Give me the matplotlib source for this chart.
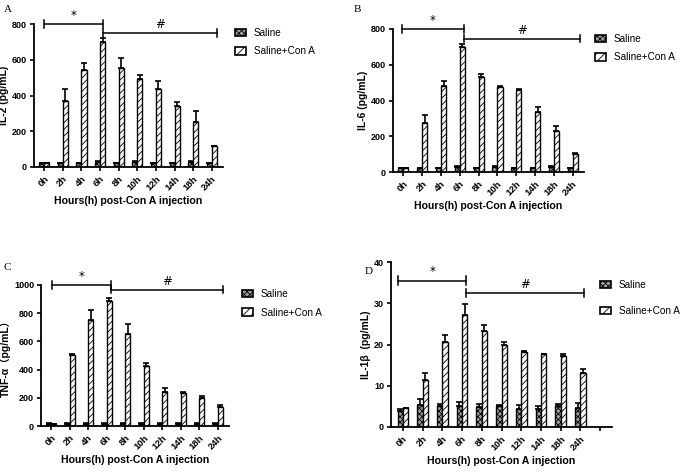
import numpy as np
import matplotlib
matplotlib.use("Agg")
import matplotlib.pyplot as plt
from matplotlib.patches import Patch

plt.rcParams['font.family'] = ['Liberation Sans', 'Noto Sans CJK SC', 'DejaVu Sans']
plt.rcParams['hatch.linewidth'] = 0.6
plt.rcParams['hatch.color'] = 'black'

hours = ['0h', '2h', '4h', '6h', '8h', '10h', '12h', '14h', '18h', '24h']

# IL-2
il2_saline = [22, 22, 22, 28, 22, 28, 22, 22, 28, 22]
il2_saline_err = [3, 3, 3, 4, 3, 4, 3, 3, 4, 3]
il2_cona = [22, 372, 541, 697, 556, 494, 434, 340, 252, 115]
il2_cona_err = [2, 65, 41, 22, 51, 22, 45, 22, 60, 5]

# IL-6
il6_saline = [22, 22, 22, 28, 22, 28, 22, 22, 28, 22]
il6_saline_err = [3, 3, 3, 4, 3, 4, 3, 3, 4, 3]
il6_cona = [22, 275, 480, 697, 529, 477, 458, 336, 232, 103]
il6_cona_err = [2, 46, 28, 21, 19, 5, 9, 25, 24, 2]

# TNF-alpha
tnf_saline = [15, 15, 15, 15, 15, 15, 15, 15, 15, 15]
tnf_saline_err = [3, 3, 3, 3, 3, 3, 3, 3, 3, 3]
tnf_cona = [15, 507, 750, 884, 649, 427, 243, 231, 196, 137]
tnf_cona_err = [2, 7, 71, 24, 73, 23, 24, 7, 16, 12]

# IL-1beta
il1b_saline = [4.0, 5.4, 5.0, 5.2, 4.9, 5.0, 4.4, 4.4, 5.1, 4.5]
il1b_saline_err = [0.4, 1.3, 0.6, 0.9, 0.6, 0.3, 1.0, 0.7, 0.4, 1.2]
il1b_cona = [4.5, 11.4, 20.7, 27.2, 23.2, 20.0, 18.2, 17.7, 17.3, 13.2]
il1b_cona_err = [0.2, 1.6, 1.7, 2.7, 1.6, 0.7, 0.2, 0.1, 0.3, 0.8]

W, H = 686, 474
fig = plt.figure(figsize=(W / 100, H / 100), dpi=100)


def px_axes(l, r, t, b):
    return fig.add_axes([l / W, 1 - b / H, (r - l) / W, (b - t) / H])


def bracket(ax, x0, x1, y, label, cap):
    ax.plot([x0, x1], [y, y], color='black', lw=1.1, clip_on=False)
    for xx in (x0, x1):
        ax.plot([xx, xx], [y - cap, y + cap], color='black', lw=1.1, clip_on=False)
    ax.annotate(label, ((x0 + x1) / 2, y), xytext=(0, 1.5), textcoords='offset points',
                ha='center', va='bottom', fontsize=8.5, family='DejaVu Sans')


def panel(box, saline, saline_err, cona, cona_err, ymax, step, ylabel, letter,
          letter_xy, brackets, legend_xy, legend_gap, extra_slot=False):
    ax = px_axes(*box)
    x = np.arange(len(hours))
    w = 0.27
    ax.bar(x - w / 2, saline, w, color='#a0a0a0', edgecolor='black', lw=1.0,
           hatch='xxxxxx', zorder=2)
    ax.bar(x + w / 2, cona, w, color='white', edgecolor='black', lw=1.0,
           hatch='/////', zorder=2)
    ax.errorbar(x - w / 2, saline, yerr=[np.zeros(len(x)), saline_err], fmt='none',
                ecolor='black', elinewidth=1.2, capsize=2, capthick=1.2, zorder=3)
    ax.errorbar(x + w / 2, cona, yerr=[np.zeros(len(x)), cona_err], fmt='none',
                ecolor='black', elinewidth=1.2, capsize=2, capthick=1.2, zorder=3)
    ax.set_ylim(0, ymax)
    ticks = np.arange(0, ymax + 1e-9, step)
    ax.set_yticks(ticks)
    ax.set_yticklabels([f'{v:g}' for v in ticks], fontsize=6.5, fontweight='bold')
    if extra_slot:
        ax.set_xlim(-0.6, 10.6)
        ax.set_xticks(np.arange(11))
        ax.set_xticklabels(hours + [''])
    else:
        ax.set_xlim(-0.55, 9.6)
        ax.set_xticks(x)
        ax.set_xticklabels(hours)
    for lab in ax.get_xticklabels():
        lab.set_rotation(45)
        lab.set_ha('right')
        lab.set_rotation_mode('anchor')
        lab.set_fontsize(6.8)
        lab.set_fontweight('bold')
    ax.spines['top'].set_visible(False)
    ax.spines['right'].set_visible(False)
    for s in ('left', 'bottom'):
        ax.spines[s].set_linewidth(1.3)
    ax.tick_params(width=1.2, length=3, pad=2)
    ax.set_xlabel('Hours(h) post-Con A injection', fontsize=7.6, fontweight='bold',
                  labelpad=3)
    ax.set_ylabel(ylabel, fontsize=7.5, fontweight='bold', labelpad=2)
    fig.text(letter_xy[0] / W, 1 - letter_xy[1] / H, letter, family='Liberation Serif',
             fontsize=8, ha='left', va='center')
    cap = ymax * 0.025
    for x0, x1, y, lab in brackets:
        bracket(ax, x0, x1, y, lab, cap)
    handles = [Patch(facecolor='#a0a0a0', edgecolor='black', hatch='xxxxxx', lw=1.2,
                     label='Saline'),
               Patch(facecolor='white', edgecolor='black', hatch='////', lw=1.2,
                     label='Saline+Con A')]
    ax.legend(handles=handles, loc='upper left',
              bbox_to_anchor=(legend_xy[0] / W, 1 - legend_xy[1] / H),
              bbox_transform=fig.transFigure, frameon=False, fontsize=7.2,
              handlelength=1.1, handleheight=0.8, handletextpad=0.8,
              labelspacing=legend_gap, borderpad=0, borderaxespad=0)
    return ax


panel((34, 223, 24, 167), il2_saline, il2_saline_err, il2_cona, il2_cona_err,
      800, 200, 'IL-2 (pg/mL)', 'A', (4, 9),
      [(0.0, 3.17, 800, '*'), (3.17, 9.3, 750, '#')], (235, 28), 0.85)

panel((393, 584, 29, 172), il6_saline, il6_saline_err, il6_cona, il6_cona_err,
      800, 200, 'IL-6 (pg/mL)', 'B', (354, 10),
      [(-0.05, 3.2, 800, '*'), (3.2, 9.4, 745, '#')], (595, 34), 0.85)

panel((41, 229, 285, 426), tnf_saline, tnf_saline_err, tnf_cona, tnf_cona_err,
      1000, 200, 'TNF-α（pg/mL）', 'C', (3, 268),
      [(0.03, 3.22, 1000, '*'), (3.22, 9.28, 967, '#')], (242, 289), 0.85)

panel((391, 612, 262, 427), il1b_saline, il1b_saline_err, il1b_cona, il1b_cona_err,
      40, 10, 'IL-1β  (pg/mL)', 'D', (365, 271),
      [(-0.25, 3.22, 35.5, '*'), (3.22, 9.2, 32.5, '#')], (600, 280), 1.6,
      extra_slot=True)

fig.savefig('out.png', dpi=100)
